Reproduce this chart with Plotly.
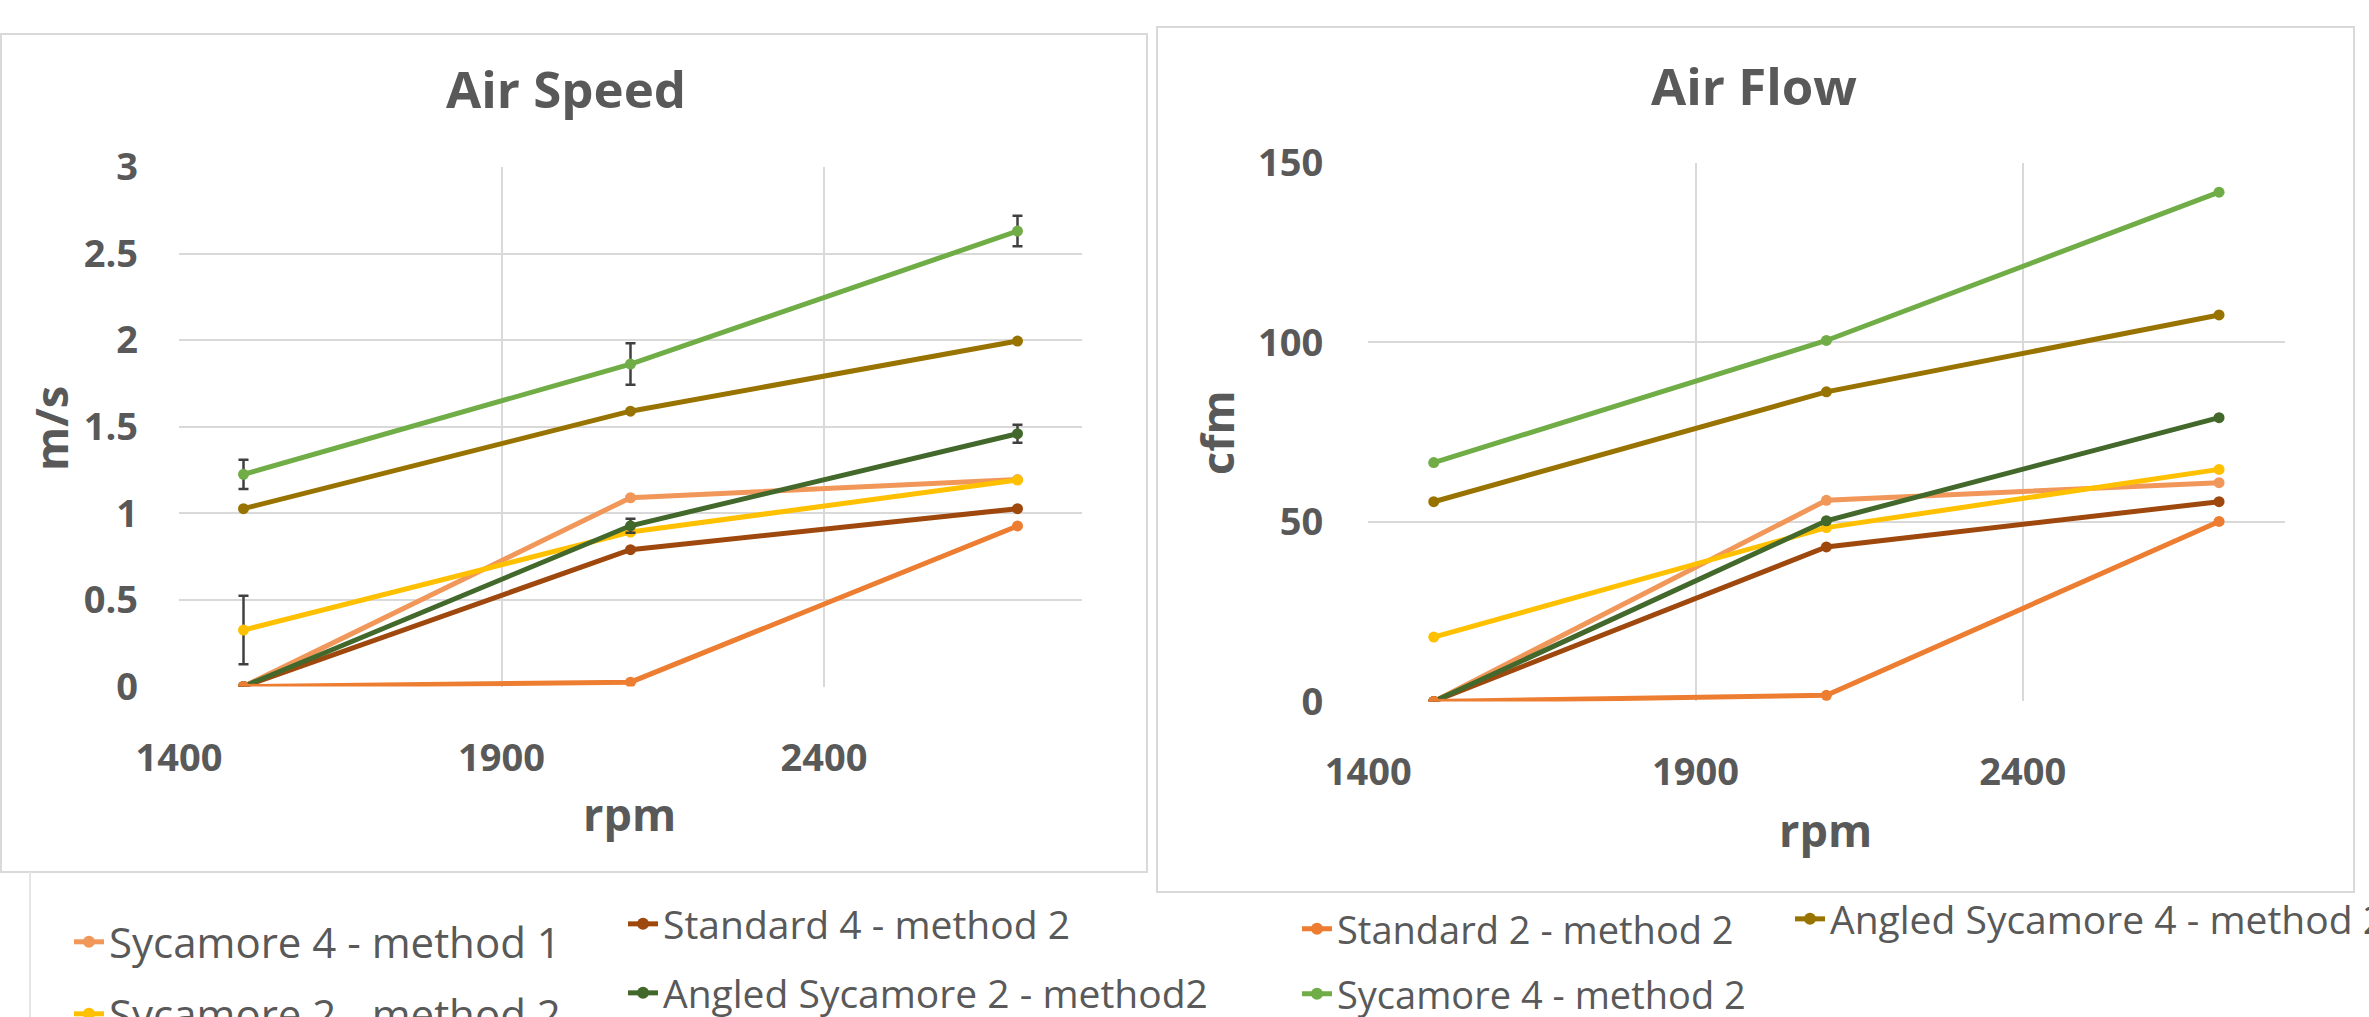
import plotly.graph_objects as go

W, H = 2369, 1017

# ---------------- data ----------------
rpm = [1500, 2100, 2700]

series_names = [
    "Sycamore 4 - method 1",
    "Standard 4 - method 2",
    "Standard 2 - method 2",
    "Angled Sycamore 4 - method 2",
    "Sycamore 2 - method 2",
    "Angled Sycamore 2 - method2",
    "Sycamore 4 - method 2",
]

# Air Speed (m/s)
speed_syc4_m1 = [0.0, 1.09, 1.195]
speed_std4_m2 = [0.0, 0.79, 1.027]
speed_std2_m2 = [0.0, 0.025, 0.927]
speed_asyc4_m2 = [1.027, 1.59, 1.995]
speed_syc2_m2 = [0.326, 0.892, 1.192]
speed_asyc2_m2 = [0.0, 0.928, 1.46]
speed_syc4_m2 = [1.225, 1.862, 2.63]

# Air Speed error bars (m/s)
err_syc2_m2 = [0.198, None, None]
err_asyc2_m2 = [None, 0.04, 0.052]
err_syc4_m2 = [0.085, 0.12, 0.088]

# Air Flow (cfm)
flow_syc4_m1 = [0.0, 56.0, 60.9]
flow_std4_m2 = [0.0, 43.0, 55.6]
flow_std2_m2 = [0.0, 1.7, 50.1]
flow_asyc4_m2 = [55.6, 86.2, 107.6]
flow_syc2_m2 = [17.9, 48.4, 64.6]
flow_asyc2_m2 = [0.0, 50.3, 79.0]
flow_syc4_m2 = [66.5, 100.5, 141.8]

x_ticks = [1400, 1900, 2400]
speed_ticks = [0, 0.5, 1, 1.5, 2, 2.5, 3]
flow_ticks = [0, 50, 100, 150]

# ---------------- styling ----------------
colors = {
    "Sycamore 4 - method 1": "#F1975A",
    "Standard 4 - method 2": "#9E480E",
    "Standard 2 - method 2": "#ED7D31",
    "Angled Sycamore 4 - method 2": "#997300",
    "Sycamore 2 - method 2": "#FFC000",
    "Angled Sycamore 2 - method2": "#43682B",
    "Sycamore 4 - method 2": "#70AD47",
}

speed = {
    "Sycamore 4 - method 1": (speed_syc4_m1, None),
    "Standard 4 - method 2": (speed_std4_m2, None),
    "Standard 2 - method 2": (speed_std2_m2, None),
    "Angled Sycamore 4 - method 2": (speed_asyc4_m2, None),
    "Sycamore 2 - method 2": (speed_syc2_m2, err_syc2_m2),
    "Angled Sycamore 2 - method2": (speed_asyc2_m2, err_asyc2_m2),
    "Sycamore 4 - method 2": (speed_syc4_m2, err_syc4_m2),
}
flow = {
    "Sycamore 4 - method 1": flow_syc4_m1,
    "Standard 4 - method 2": flow_std4_m2,
    "Standard 2 - method 2": flow_std2_m2,
    "Angled Sycamore 4 - method 2": flow_asyc4_m2,
    "Sycamore 2 - method 2": flow_syc2_m2,
    "Angled Sycamore 2 - method2": flow_asyc2_m2,
    "Sycamore 4 - method 2": flow_syc4_m2,
}

# draw order (Excel series order)
draw_order = [
    "Sycamore 4 - method 1",
    "Sycamore 2 - method 2",
    "Standard 4 - method 2",
    "Angled Sycamore 2 - method2",
    "Standard 2 - method 2",
    "Sycamore 4 - method 2",
    "Angled Sycamore 4 - method 2",
]

# legend placement: (text start x px, centre y px, font size)
legend_pos = {
    "Sycamore 4 - method 1": (114, 942, 42),
    "Standard 4 - method 2": (668, 924, 39),
    "Standard 2 - method 2": (1342, 929, 38),
    "Angled Sycamore 4 - method 2": (1835, 919, 39),
    "Sycamore 2 - method 2": (114, 1014, 42),
    "Angled Sycamore 2 - method2": (668, 993, 39),
    "Sycamore 4 - method 2": (1342, 994, 38),
}


def px(x):
    return x / W


def py(y):
    return 1 - y / H


GRAY = "#595959"
GRID = "#D9D9D9"
FONT = "Open Sans"
LW = 5
MS = 11

fig = go.Figure()

legend_ids = {}
for i, name in enumerate(series_names):
    legend_ids[name] = "legend" if i == 0 else f"legend{i + 1}"

for name in draw_order:
    c = colors[name]
    vals, err = speed[name]
    tr = dict(
        x=rpm, y=vals, mode="lines+markers", name=name,
        line=dict(color=c, width=LW),
        marker=dict(color=c, size=MS, symbol="circle"),
        xaxis="x", yaxis="y", legend=legend_ids[name], showlegend=True,
    )
    if err is not None:
        tr["error_y"] = dict(type="data", array=err, visible=True,
                             color="#404040", thickness=2.5, width=5)
    fig.add_trace(go.Scatter(**tr))

for name in draw_order:
    c = colors[name]
    fig.add_trace(go.Scatter(
        x=rpm, y=flow[name], mode="lines+markers", name=name,
        line=dict(color=c, width=LW),
        marker=dict(color=c, size=MS, symbol="circle"),
        xaxis="x2", yaxis="y2", showlegend=False,
    ))

tickfont = dict(family=FONT, size=38, color=GRAY, weight="bold")

axis_common = dict(
    showgrid=True, gridcolor=GRID, gridwidth=1.6,
    zeroline=False, showline=False, ticks="",
    tickfont=tickfont, fixedrange=True,
)

layout = dict(
    width=W, height=H, autosize=False,
    margin=dict(l=0, r=0, t=0, b=0, autoexpand=False),
    paper_bgcolor="white", plot_bgcolor="white",
    font=dict(family=FONT, color=GRAY),
    xaxis=dict(domain=[px(179), px(1082)], range=[1400, 2800],
               tickvals=x_ticks, anchor="y", ticklabelstandoff=45, **axis_common),
    yaxis=dict(domain=[py(686.5), py(167)], range=[0, 3],
               tickvals=speed_ticks, anchor="x", ticklabelstandoff=40, **axis_common),
    xaxis2=dict(domain=[px(1368.3), px(2284.5)], range=[1400, 2800],
                tickvals=x_ticks, anchor="y2", ticklabelstandoff=45, **axis_common),
    yaxis2=dict(domain=[py(701.4), py(162.7)], range=[0, 150],
                tickvals=flow_ticks, anchor="x2", ticklabelstandoff=44, **axis_common),
    showlegend=True,
)

for name in series_names:
    tx, cy, fs = legend_pos[name]
    layout[legend_ids[name]] = dict(
        x=px(tx - 45), y=py(cy), xanchor="left", yanchor="middle",
        xref="paper", yref="paper",
        bgcolor="rgba(0,0,0,0)", borderwidth=0,
        font=dict(family=FONT, size=fs, color=GRAY),
        orientation="v", itemsizing="constant",
    )

fig.update_layout(**layout)

# chart frames and legend divider
shapes = [
    dict(type="rect", xref="paper", yref="paper",
         x0=px(1), x1=px(1147), y0=py(872), y1=py(34),
         line=dict(color=GRID, width=2), fillcolor="rgba(0,0,0,0)", layer="below"),
    dict(type="rect", xref="paper", yref="paper",
         x0=px(1157), x1=px(2354), y0=py(892), y1=py(27),
         line=dict(color=GRID, width=2), fillcolor="rgba(0,0,0,0)", layer="below"),
    dict(type="line", xref="paper", yref="paper",
         x0=px(30), x1=px(30), y0=py(872), y1=py(1017),
         line=dict(color="#E6E6E6", width=2)),
]
fig.update_layout(shapes=shapes)

title_font = dict(family=FONT, size=51, color=GRAY, weight="bold")
axis_title_font = dict(family=FONT, size=45, color=GRAY, weight="bold")

annotations = [
    dict(text="Air Speed", x=px(566), y=py(88), font=title_font),
    dict(text="Air Flow", x=px(1754), y=py(85), font=title_font),
    dict(text="rpm", x=px(629), y=py(813), font=axis_title_font),
    dict(text="rpm", x=px(1825), y=py(829), font=axis_title_font),
    dict(text="m/s", x=px(50), y=py(428), font=axis_title_font, textangle=-90),
    dict(text="cfm", x=px(1217), y=py(433), font=axis_title_font, textangle=-90),
]
for a in annotations:
    a.update(xref="paper", yref="paper", xanchor="center", yanchor="middle",
             showarrow=False)
fig.update_layout(annotations=annotations)

fig.write_html(
    "out.html",
    config={"displayModeBar": False},
    post_script="document.body.style.margin='0';document.body.style.overflow='hidden';",
)
